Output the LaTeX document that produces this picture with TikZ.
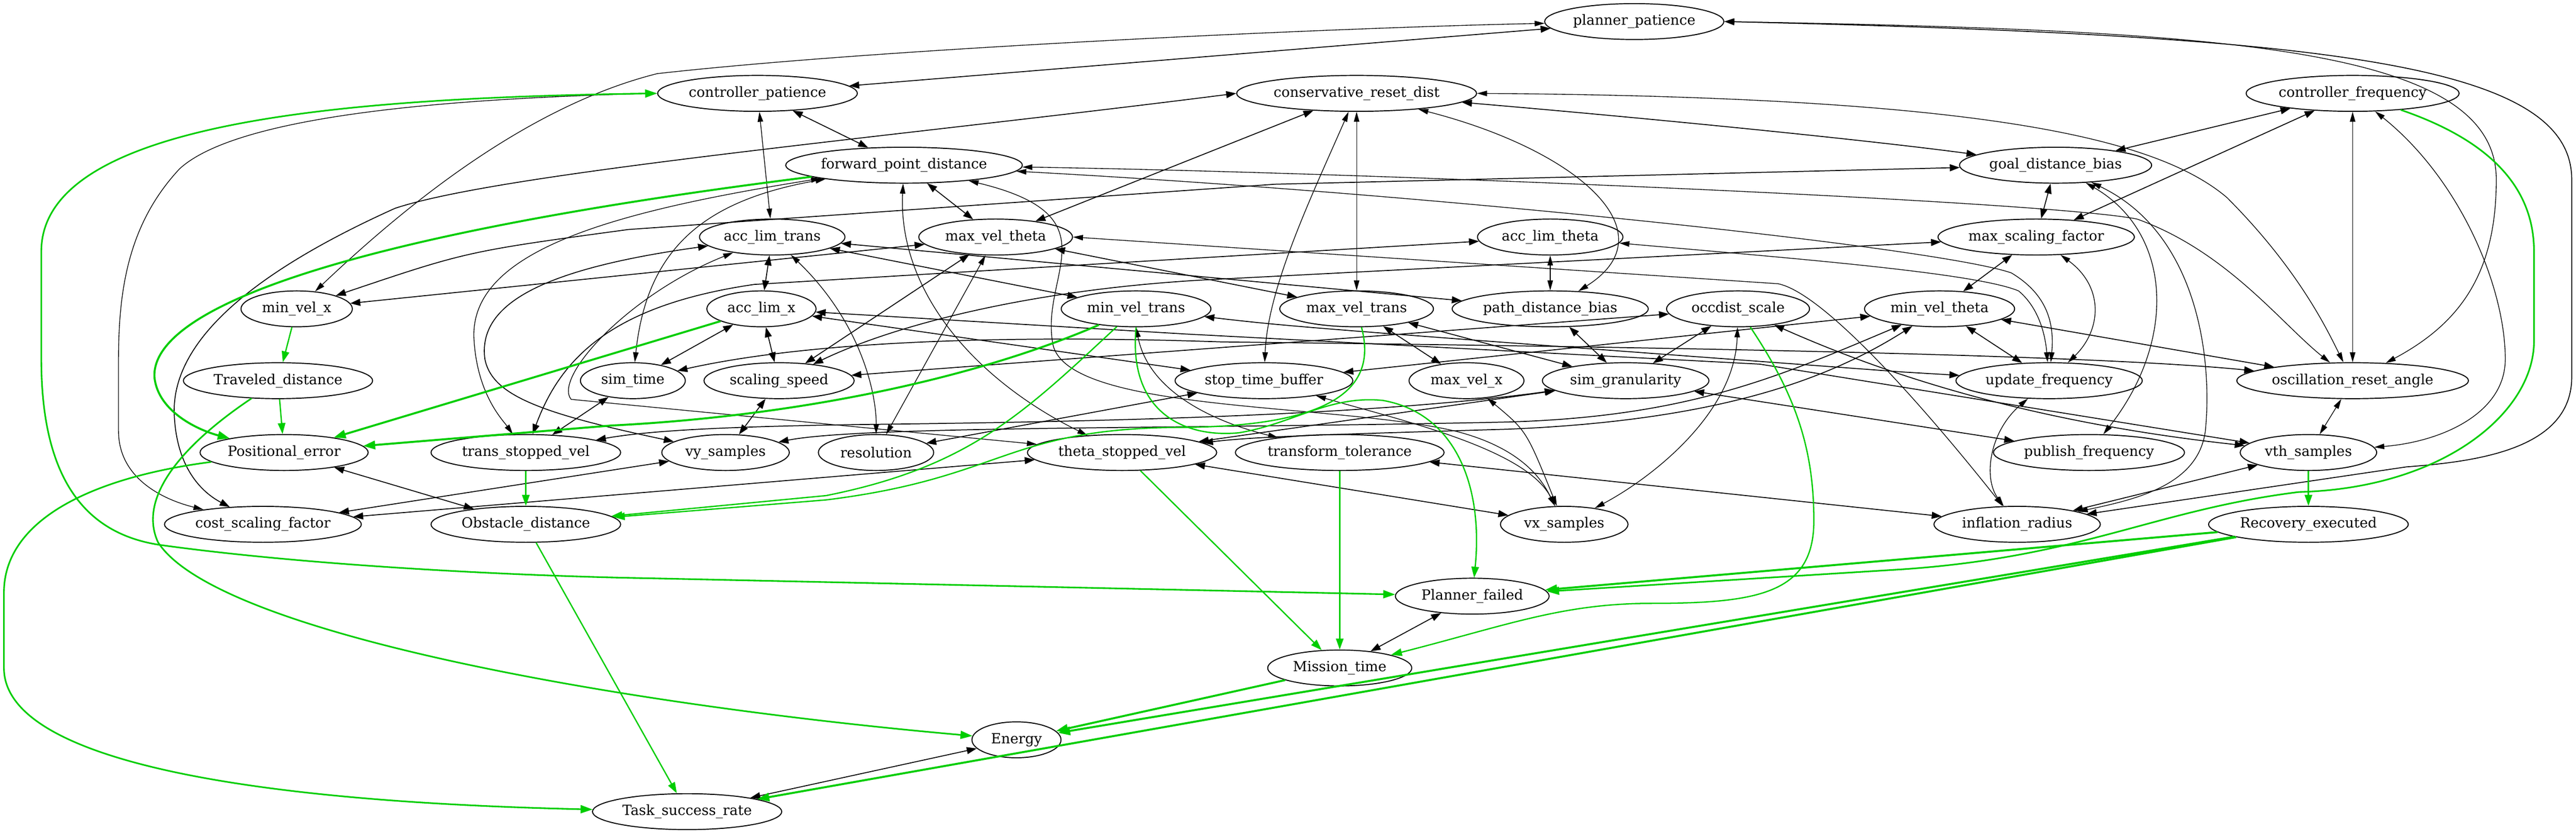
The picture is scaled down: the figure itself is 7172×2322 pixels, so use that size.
\documentclass[tikz,border=0pt]{standalone}
\usepackage{fontspec}
\setmainfont{DejaVu Serif}
\usetikzlibrary{shapes.geometric,arrows.meta}
\definecolor{gv}{RGB}{0,205,0}
\begin{document}
\begin{tikzpicture}[x=0.36pt,y=-0.36pt,
 nd/.style={ellipse,draw,line width=1pt,inner sep=0pt,minimum height=36pt,font=\fontsize{14pt}{17pt}\selectfont},
 cb/.style={line width=0.9pt,{Triangle[length=10pt,width=7pt]}-{Triangle[length=10pt,width=7pt]}},
 cbt/.style={line width=0.7pt,{Triangle[length=10pt,width=5.5pt]}-{Triangle[length=10pt,width=5.5pt]}},
 gth/.style={draw=gv,line width=2pt,-{Triangle[length=12pt,width=8.5pt,fill=gv]}},
 gtm/.style={draw=gv,line width=1.6pt,-{Triangle[length=12pt,width=8pt,fill=gv]}},
 gtn/.style={draw=gv,line width=1.3pt,-{Triangle[length=11pt,width=7.5pt,fill=gv]}},
 gtb/.style={draw=gv,line width=1.6pt,{Triangle[length=12pt,width=8pt,fill=gv]}-{Triangle[length=12pt,width=8pt,fill=gv]}}]
\useasboundingbox (0,0) rectangle (7172,2322);
\fill[white] (0,0) rectangle (7172,2322);
% nodes
\node[nd,minimum width=179.6pt] (pp) at (4550,60) {planner\_patience};
\node[nd,minimum width=200.2pt] (cp) at (2109,260) {controller\_patience};
\node[nd,minimum width=240.5pt] (crd) at (3777,260) {conservative\_reset\_dist};
\node[nd,minimum width=213.5pt] (cf) at (6550,260) {controller\_frequency};
\node[nd,minimum width=237.2pt] (fpd) at (2517,460) {forward\_point\_distance};
\node[nd,minimum width=192.6pt] (gdb) at (5723,460) {goal\_distance\_bias};
\node[nd,minimum width=145.8pt] (alt) at (2150,660) {acc\_lim\_trans};
\node[nd,minimum width=154.1pt] (mvth) at (2772,660) {max\_vel\_theta};
\node[nd,minimum width=145.8pt] (alth) at (4316,660) {acc\_lim\_theta};
\node[nd,minimum width=196.9pt] (msf) at (5669,660) {max\_scaling\_factor};
\node[nd,minimum width=111.6pt] (mvx) at (826,860) {min\_vel\_x};
\node[nd,minimum width=109.4pt] (alx) at (2120,860) {acc\_lim\_x};
\node[nd,minimum width=150.1pt] (mvtr) at (3163,860) {min\_vel\_trans};
\node[nd,minimum width=154.1pt] (xvtr) at (3777,860) {max\_vel\_trans};
\node[nd,minimum width=196.6pt] (pdb) at (4316,860) {path\_distance\_bias};
\node[nd,minimum width=143.3pt] (ods) at (4839,860) {occdist\_scale};
\node[nd,minimum width=150.5pt] (mvt) at (5400,860) {min\_vel\_theta};
\node[nd,minimum width=189.7pt] (td) at (774,1060) {Traveled\_distance};
\node[nd,minimum width=105.1pt] (st) at (1762,1060) {sim\_time};
\node[nd,minimum width=150.5pt] (ss) at (2169,1060) {scaling\_speed};
\node[nd,minimum width=178.2pt] (stb) at (3519,1060) {stop\_time\_buffer};
\node[nd,minimum width=115.2pt] (xvx) at (4083,1060) {max\_vel\_x};
\node[nd,minimum width=167.0pt] (sg) at (4526,1060) {sim\_granularity};
\node[nd,minimum width=186.8pt] (uf) at (5705,1060) {update\_frequency};
\node[nd,minimum width=232.2pt] (ora) at (6550,1060) {oscillation\_reset\_angle};
\node[nd,minimum width=168.5pt] (pe) at (791,1260) {Positional\_error};
\node[nd,minimum width=190.1pt] (tsv) at (1464,1260) {trans\_stopped\_vel};
\node[nd,minimum width=127.8pt] (vys) at (2020,1260) {vy\_samples};
\node[nd,minimum width=115.6pt] (res) at (2439,1260) {resolution};
\node[nd,minimum width=189.7pt] (thsv) at (3124,1260) {theta\_stopped\_vel};
\node[nd,minimum width=209.2pt] (tt) at (3730,1260) {transform\_tolerance};
\node[nd,minimum width=191.5pt] (pf) at (5816,1260) {publish\_frequency};
\node[nd,minimum width=136.8pt] (vth) at (6427,1260) {vth\_samples};
\node[nd,minimum width=197.3pt] (csf) at (732,1460) {cost\_scaling\_factor};
\node[nd,minimum width=190.1pt] (od) at (1464,1460) {Obstacle\_distance};
\node[nd,minimum width=127.8pt] (vxs) at (4355,1460) {vx\_samples};
\node[nd,minimum width=166.7pt] (ir) at (5616,1460) {inflation\_radius};
\node[nd,minimum width=200.2pt] (re) at (6427,1460) {Recovery\_executed};
\node[nd,minimum width=154.1pt] (plf) at (4099,1660) {Planner\_failed};
\node[nd,minimum width=144.4pt] (mt) at (3730,1860) {Mission\_time};
\node[nd,minimum width=89.3pt] (en) at (2830,2060) {Energy};
\node[nd,minimum width=189.7pt] (tsr) at (1913,2260) {Task\_success\_rate};
% black edges
\draw[cb] (cp) -- (pp);
\draw[cbt] (mvx) .. controls (1100,600) and (1450,300) .. (1830,205) .. controls (2500,130) and (3800,75) .. (pp);
\draw[cbt] (cp) -- (alt);
\draw[cb] (cp) -- (fpd);
\draw[cbt] (cp.west) .. controls (1000,280) and (620,360) .. (500,470) .. controls (360,620) and (330,800) .. (330,1000) -- (330,1200) .. controls (330,1330) and (450,1390) .. (csf);
\draw[cb] (crd.west) .. controls (2500,380) and (1400,480) .. (1100,580) .. controls (700,760) and (480,950) .. (485,1150) .. controls (490,1300) and (560,1370) .. (csf);
\draw[cb] (crd) -- (mvth);
\draw[cbt] (crd) -- (xvtr);
\draw[cbt] (crd) .. controls (3650,550) and (3530,800) .. (stb);
\draw[cbt] (crd) .. controls (4400,420) and (4650,650) .. (pdb);
\draw[cb] (crd) .. controls (4600,330) and (5200,390) .. (gdb);
\draw[cbt] (crd.east) .. controls (5500,270) and (6000,380) .. (6200,550) .. controls (6400,750) and (6480,920) .. (ora);
\draw[cb] (cf) -- (gdb);
\draw[cb] (cf) -- (msf);
\draw[cbt] (cf) -- (ora);
\draw[cbt] (cf) .. controls (6850,500) and (6975,800) .. (6975,1000) .. controls (6975,1150) and (6800,1230) .. (vth);
\draw[cbt] (pp.east) .. controls (6200,85) and (6950,130) .. (6950,500) .. controls (6950,760) and (6850,900) .. (ora);
\draw[cb] (pp.east) .. controls (6500,100) and (7160,180) .. (7160,500) -- (7160,1050) .. controls (7160,1250) and (6900,1285) .. (6700,1300) -- (ir);
\draw[cbt] (fpd) .. controls (3800,480) and (5700,560) .. (5950,610) .. controls (6200,700) and (6350,900) .. (ora);
\draw[cbt] (fpd) .. controls (4000,540) and (5400,690) .. (5600,760) .. controls (5700,820) and (5720,900) .. (uf);
\draw[cbt] (alth) .. controls (5000,720) and (5500,760) .. (5620,810) .. controls (5680,860) and (5695,940) .. (uf);
\draw[cbt] (msf) .. controls (5860,800) and (5850,920) .. (uf);
\draw[cb] (mvx) .. controls (1300,700) .. (1750,639) -- (3550,513) -- (gdb);
\draw[cb] (gdb) -- (msf);
\draw[cbt] (gdb) .. controls (6050,650) and (6060,950) .. (pf);
\draw[cbt] (gdb) .. controls (6120,650) and (6160,1000) .. (6140,1200) .. controls (6120,1350) and (5950,1390) .. (ir);
\draw[cb] (fpd) -- (mvth);
\draw[cbt] (fpd) .. controls (1950,560) and (1800,700) .. (st);
\draw[cbt] (fpd) .. controls (1700,590) and (1300,700) .. (1320,950) .. controls (1330,1100) and (1400,1170) .. (tsv);
\draw[cbt] (fpd) .. controls (2500,800) and (2700,1050) .. (thsv);
\draw[cbt] (fpd) .. controls (3100,600) and (2900,760) .. (2930,950) .. controls (2950,1150) and (3700,1120) .. (4050,1200) .. controls (4250,1250) and (4300,1350) .. (vxs);
\draw[cb] (alt) -- (alx);
\draw[cb] (alt) -- (mvtr);
\draw[cbt] (alt) .. controls (2400,900) and (2440,1100) .. (res);
\draw[cb] (alt) -- (pdb);
\draw[cb] (alt) .. controls (1500,750) and (1330,850) .. (1350,1000) .. controls (1370,1100) and (1500,1150) .. (vys);
\draw[cbt] (alt) .. controls (1750,820) and (1540,1050) .. (1590,1112) -- (thsv);
\draw[cb] (mvth) -- (ss);
\draw[cbt] (mvth) -- (res);
\draw[cb] (mvth) -- (mvx);
\draw[cb] (mvth) -- (xvtr);
\draw[cbt] (mvth.east) -- (4950,790) .. controls (5100,820) and (5450,1250) .. (ir);
\draw[cbt] (alth) -- (pdb);
\draw[cb] (tsv) .. controls (1560,1000) and (1700,850) .. (2100,792) -- (alth);
\draw[cb] (alx) -- (st);
\draw[cb] (alx) -- (ss);
\draw[cb] (alx) -- (stb);
\draw[cb] (alx) -- (3300,930) -- (4900,1014) -- (vth);
\draw[cb] (mvtr) .. controls (3600,910) .. (5300,1036) -- (uf);
\draw[cbt] (mvtr.south) .. controls (3200,1100) and (3400,1180) .. (tt);
\draw[cb] (xvtr) -- (xvx);
\draw[cb] (xvtr) -- (sg);
\draw[cb] (pdb) -- (sg);
\draw[cb] (ods) -- (sg);
\draw[cbt] (ods) .. controls (4830,1150) and (4600,1330) .. (vxs);
\draw[cb] (ods) .. controls (5200,1020) and (5600,1170) .. (vth);
\draw[cb] (ss) -- (ods);
\draw[cb] (ss) .. controls (2500,900) and (2900,800) .. (3400,777) -- (msf);
\draw[cb] (ss) -- (vys);
\draw[cb] (st) -- (tsv);
\draw[cb] (st) .. controls (2300,940) and (2900,935) .. (3400,952) .. controls (4500,965) and (5800,985) .. (ora);
\draw[cb] (res) -- (stb);
\draw[cb] (mvt) -- (stb);
\draw[cb] (mvt) .. controls (4950,1050) and (4700,1160) .. (4200,1175) .. controls (3300,1195) and (2400,1185) .. (vys);
\draw[cb] (mvt) .. controls (5100,1050) and (4800,1170) .. (4200,1195) .. controls (3700,1210) and (3500,1215) .. (thsv);
\draw[cb] (sg) .. controls (3800,1160) and (3000,1175) .. (2400,1182) .. controls (2000,1188) and (1800,1200) .. (tsv);
\draw[cb] (sg) -- (thsv);
\draw[cb] (sg) -- (pf);
\draw[cbt] (xvx) .. controls (4250,1200) .. (vxs);
\draw[cbt] (stb) .. controls (3900,1170) and (4250,1250) .. (vxs);
\draw[cb] (thsv) -- (vxs);
\draw[cb] (csf) -- (vys);
\draw[cb] (csf) -- (thsv);
\draw[cb] (tt) -- (ir);
\draw[cb] (vth) -- (ir);
\draw[cbt] (uf) .. controls (5540,1200) and (5520,1330) .. (ir);
\draw[cb] (mvt) -- (ora);
\draw[cb] (mvt) -- (uf);
\draw[cb] (msf) -- (mvt);
\draw[cbt] (ora) -- (vth);
\draw[cb] (pe) -- (od);
\draw[cb] (plf) -- (mt);
\draw[cb] (en) -- (tsr);
% green edges
\draw[gtb] (cp.west) .. controls (1000,272) and (115,330) .. (115,700) -- (115,1000) .. controls (115,1350) and (250,1490) .. (450,1518) .. controls (900,1580) and (1500,1605) .. (1800,1610) -- (plf);
\draw[gth] (fpd) .. controls (1000,650) and (420,850) .. (430,1050) .. controls (440,1150) and (560,1200) .. (pe);
\draw[gtn] (mvx) -- (td);
\draw[gtn] (td) -- (pe);
\draw[gtm] (td) .. controls (520,1230) and (380,1380) .. (440,1510) .. controls (600,1760) and (1700,1960) .. (en);
\draw[gth] (alx) -- (pe);
\draw[gth] (mvtr) .. controls (2700,1060) and (2200,1160) .. (1700,1185) -- (pe);
\draw[gtm] (pe) .. controls (250,1330) and (11,1450) .. (11,1650) -- (11,1860) .. controls (11,2100) and (600,2230) .. (tsr);
\draw[gtn] (tsv) -- (od);
\draw[gtn] (mvtr) .. controls (2850,1150) and (2700,1300) .. (2300,1380) -- (od);
\draw[gtn] (xvtr) .. controls (3830,1060) and (3750,1185) .. (3300,1190) .. controls (2800,1190) and (2800,1330) .. (2300,1392) -- (od);
\draw[gtn] (mvtr.south) .. controls (3140,1150) and (3300,1220) .. (3450,1205) .. controls (3600,1180) and (3700,1100) .. (3850,1115) .. controls (4050,1150) and (4130,1350) .. (plf);
\draw[gtn] (ods) .. controls (5000,1100) and (5050,1250) .. (5050,1450) .. controls (5050,1650) and (4900,1680) .. (4600,1680) .. controls (4350,1680) and (4200,1740) .. (mt);
\draw[gtn] (thsv) -- (mt);
\draw[gtn] (tt) -- (mt);
\draw[gtn] (od) -- (tsr);
\draw[gth] (mt) -- (en);
\draw[gth] (re) -- (en);
\draw[gth] (re) -- (tsr);
\draw[gth] (re) -- (plf);
\draw[gtm] (cf) .. controls (6900,380) and (7055,500) .. (7055,700) -- (7055,950) .. controls (7055,1150) and (6800,1360) .. (6400,1370) .. controls (6000,1420) and (5800,1550) .. (5300,1585) -- (plf);
\draw[gtn] (vth) -- (re);
\end{tikzpicture}
\end{document}
